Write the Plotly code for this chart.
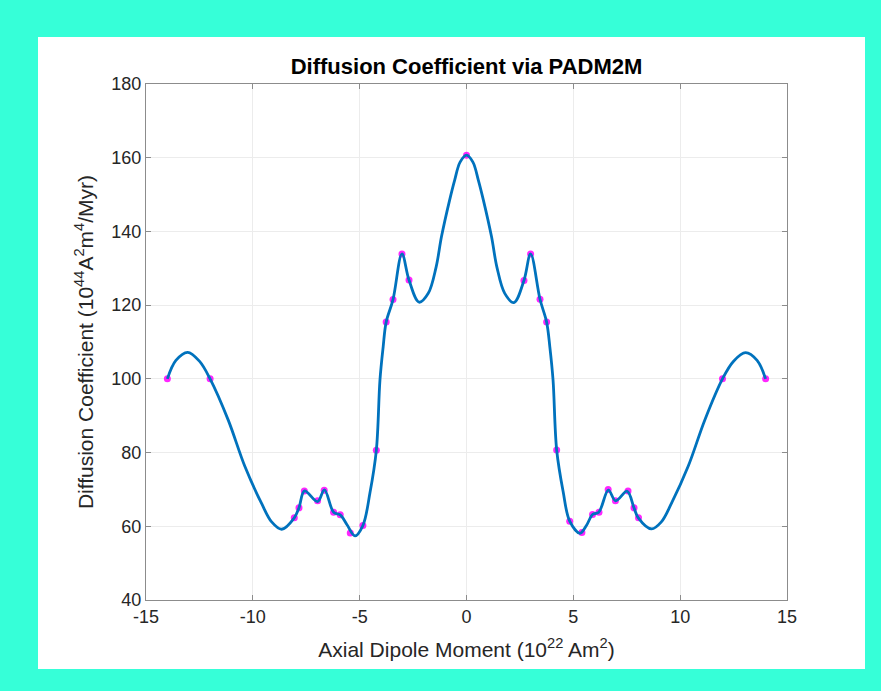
import plotly.graph_objects as go

# Sample points (magenta markers)
pts_x = [-14.0, -12.0, -8.06, -7.84, -7.59, -6.97, -6.66, -6.22, -5.91, -5.44, -4.85, -4.22,
         -3.76, -3.44, -3.02, -2.69, 0.0, 2.69, 3.0, 3.44, 3.75, 4.22, 4.83, 5.40, 5.90, 6.20,
         6.63, 6.97, 7.56, 7.84, 8.05, 11.98, 14.0]
pts_y = [100.0, 100.0, 62.3, 65.0, 69.6, 66.9, 69.8, 63.8, 63.1, 58.2, 60.2, 80.6,
         115.4, 121.5, 133.9, 126.8, 160.7, 126.7, 133.9, 121.6, 115.4, 80.7, 61.4, 58.3, 63.2, 63.8,
         70.0, 66.9, 69.6, 65.0, 62.3, 100.0, 100.0]

# Smooth fitted curve
curve_x = [-14.0, -13.6, -13.05, -12.5, -12.0, -11.15, -10.37, -9.59, -9.12, -8.65, -8.06, -7.84,
           -7.58, -6.97, -6.65, -6.22, -5.91, -5.6, -5.22, -4.85, -4.52, -4.22, -4.05, -3.90,
           -3.76, -3.44, -3.02, -2.69, -2.22, -1.79, -1.42, -1.17, -0.79, -0.55, -0.3, 0.0,
           0.3, 0.55, 0.79, 1.17, 1.42, 1.79, 2.22, 2.69, 3.0, 3.44, 3.75, 3.90, 4.05, 4.22, 4.52,
           4.83, 5.31, 5.62, 5.90, 6.19, 6.64, 6.98, 7.52, 7.84, 8.04, 8.66, 9.12, 9.59, 10.37,
           11.15, 11.98, 12.5, 13.06, 13.6, 14.0]
curve_y = [100.0, 105.0, 107.2, 104.8, 100.0, 88.8, 76.2, 66.2, 61.2, 59.2, 62.3, 65.0,
           69.6, 66.7, 69.9, 63.8, 63.1, 60.5, 57.4, 60.2, 69.0, 80.6, 99.7, 108.7,
           115.4, 121.5, 133.9, 126.8, 120.8, 123.2, 130.4, 138.6, 148.5, 154.0, 158.8, 160.7,
           158.8, 154.0, 148.5, 138.6, 130.4, 123.2, 120.7, 126.7, 133.9, 121.6, 115.4, 108.7, 99.7, 80.7, 69.5,
           61.4, 58.1, 60.3, 63.2, 63.8, 69.8, 66.9, 69.5, 65.0, 62.3, 59.3, 61.2, 66.2, 76.2,
           88.8, 100.0, 104.8, 107.1, 105.0, 100.0]

x_ticks = [-15, -10, -5, 0, 5, 10, 15]
y_ticks = [40, 60, 80, 100, 120, 140, 160, 180]

FONT = "Liberation Sans, Arial, Helvetica, sans-serif"
TXT = "#262626"
AX = "#8c8c8c"

fig = go.Figure()
fig.add_trace(go.Scatter(x=pts_x, y=pts_y, mode="markers",
                         marker=dict(color="#ff00ff", size=7, opacity=0.85, line=dict(width=0)),
                         showlegend=False, hoverinfo="x+y"))
fig.add_trace(go.Scatter(x=curve_x, y=curve_y, mode="lines",
                         line=dict(color="#0072BD", width=2.8, shape="spline", smoothing=1.0),
                         showlegend=False, hoverinfo="x+y"))

L, R, T, B = 146, 787, 84, 600
W, H = 881, 691
pw, ph = R - L, B - T
fig.add_shape(type="rect", xref="paper", yref="paper",
              x0=(38 - L) / pw, x1=(865 - L) / pw,
              y0=(B - 669) / ph, y1=(B - 37) / ph,
              fillcolor="white", line=dict(width=0), layer="below")

axis_common = dict(showline=True, linecolor=AX, linewidth=1, mirror="ticks",
                   ticks="inside", ticklen=5, tickcolor=AX, tickwidth=1,
                   showgrid=True, gridcolor="#ececec", gridwidth=1, zeroline=False,
                   tickfont=dict(family=FONT, size=18, color=TXT))

fig.update_layout(
    width=W, height=H,
    margin=dict(l=L, r=W - R, t=T, b=H - B),
    paper_bgcolor="#36ffd8", plot_bgcolor="white",
    title=dict(text="<b>Diffusion Coefficient via PADM2M</b>", x=(L + R) / 2 / W, xanchor="center",
               y=1 - 66 / H, yanchor="middle",
               font=dict(family=FONT, size=22, color="black")),
    xaxis=dict(range=[-15, 15], tickvals=x_ticks, ticktext=[str(v) for v in x_ticks],
               title=dict(text="Axial Dipole Moment (10<sup>22</sup> Am<sup>2</sup>)",
                          font=dict(family=FONT, size=21, color=TXT), standoff=16),
               **axis_common),
    yaxis=dict(range=[40, 180], tickvals=y_ticks, ticktext=[str(v) for v in y_ticks],
               title=dict(text="Diffusion Coefficient (10<sup>44</sup>A<sup>2</sup>m<sup>4</sup>/Myr)",
                          font=dict(family=FONT, size=21, color=TXT), standoff=12),
               **axis_common),
)

fig.write_html("out.html")
